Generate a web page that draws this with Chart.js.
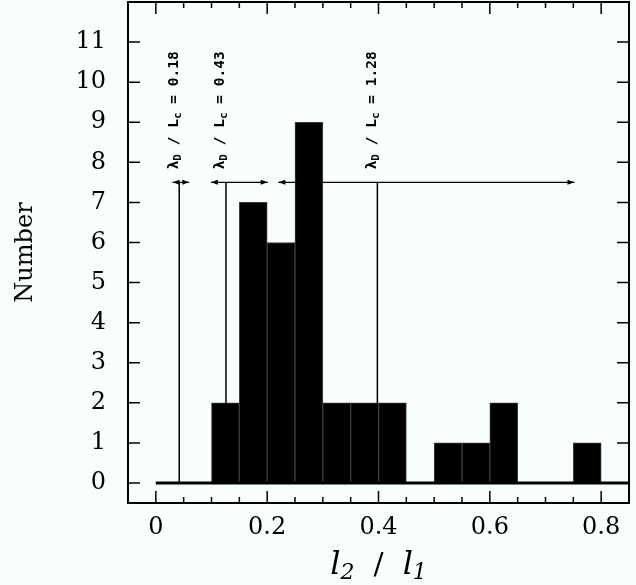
<!DOCTYPE html>
<html><head><meta charset="utf-8">
<script src="https://cdn.jsdelivr.net/npm/chart.js@4.4.1/dist/chart.umd.min.js"></script>
<style>html,body{margin:0;padding:0;background:#f8fefe;overflow:hidden;}</style>
</head><body>
<canvas id="c" width="636" height="585" style="width:636px;height:585px;display:block"></canvas>
<script>
// ---- data ----
const binLo  = [0.00,0.05,0.10,0.15,0.20,0.25,0.30,0.35,0.40,0.45,0.50,0.55,0.60,0.65,0.70,0.75];
const binHi  = [0.05,0.10,0.15,0.20,0.25,0.30,0.35,0.40,0.45,0.50,0.55,0.60,0.65,0.70,0.75,0.80];
const counts = [0,   0,   2,   7,   6,   9,   2,   2,   2,   0,   1,   1,   2,   0,   0,   1];
const xMajorTicks = [0, 0.2, 0.4, 0.6, 0.8];
const xTickLabels = ['0', '0.2', '0.4', '0.6', '0.8'];
const xMinorTicks = [0.05,0.1,0.15,0.25,0.3,0.35,0.45,0.5,0.55,0.65,0.7,0.75];
const yTicks      = [0,1,2,3,4,5,6,7,8,9,10,11];
const yTickLabels = ['0','1','2','3','4','5','6','7','8','9','10','11'];
const markerX     = [0.042, 0.126, 0.398];
const arrowLo     = [0.030, 0.099, 0.220];
const arrowHi     = [0.060, 0.201, 0.752];
const markerRatio = ['0.18', '0.43', '1.28'];
const arrowLevel  = 7.5;

const BG = '#f8fefe';

const annot = {
  id: 'annot',
  beforeDraw(chart) {
    const ctx = chart.ctx;
    ctx.save(); ctx.fillStyle = BG; ctx.fillRect(0, 0, chart.width, chart.height); ctx.restore();
  },
  afterDatasetsDraw(chart) {
    const ctx = chart.ctx, xs = chart.scales.x, ys = chart.scales.y, a = chart.chartArea;
    ctx.save();
    ctx.strokeStyle = '#000'; ctx.fillStyle = '#000';
    // baseline at zero
    ctx.lineWidth = 3;
    ctx.beginPath(); ctx.moveTo(xs.getPixelForValue(0), ys.getPixelForValue(0));
    ctx.lineTo(a.right, ys.getPixelForValue(0)); ctx.stroke();
    // markers + arrows
    const yA = ys.getPixelForValue(arrowLevel);
    const head = (x, y, dir) => {
      ctx.beginPath(); ctx.moveTo(x, y); ctx.lineTo(x - dir * 7, y - 2.5); ctx.lineTo(x - dir * 7, y + 2.5);
      ctx.closePath(); ctx.fill();
    };
    for (let i = 0; i < markerX.length; i++) {
      const xm = xs.getPixelForValue(markerX[i]);
      ctx.lineWidth = 1.5;
      ctx.beginPath(); ctx.moveTo(xm, ys.getPixelForValue(0)); ctx.lineTo(xm, yA); ctx.stroke();
      const x0 = xs.getPixelForValue(arrowLo[i]), x1 = xs.getPixelForValue(arrowHi[i]);
      ctx.lineWidth = 1.2;
      ctx.beginPath(); ctx.moveTo(x0, yA); ctx.lineTo(x1, yA); ctx.stroke();
      head(x0, yA, -1); head(x1, yA, 1);
      // rotated label
      ctx.save();
      ctx.translate(xm - 1.5, yA - 13);
      ctx.rotate(-Math.PI / 2);
      ctx.textBaseline = 'alphabetic'; ctx.textAlign = 'left';
      const big = 'bold 14.5px "DejaVu Sans Mono"', small = 'bold 11px "DejaVu Sans Mono"';
      const parts = [['λ', big, 0], ['D', small, 3], [' / L', big, 0], ['c', small, 3], [' = ' + markerRatio[i], big, 0]];
      let cx = 0;
      for (const [t, f, dy] of parts) { ctx.font = f; ctx.fillText(t, cx, dy); cx += ctx.measureText(t).width; }
      ctx.restore();
    }
    // frame
    ctx.lineWidth = 2;
    ctx.strokeRect(a.left, a.top, a.right - a.left, a.bottom - a.top);
    // ticks
    ctx.lineWidth = 1.5;
    ctx.beginPath();
    for (const v of xMajorTicks) { const p = xs.getPixelForValue(v);
      ctx.moveTo(p, a.bottom); ctx.lineTo(p, a.bottom - 12); ctx.moveTo(p, a.top); ctx.lineTo(p, a.top + 12); }
    for (const v of xMinorTicks) { const p = xs.getPixelForValue(v);
      ctx.moveTo(p, a.bottom); ctx.lineTo(p, a.bottom - 6); ctx.moveTo(p, a.top); ctx.lineTo(p, a.top + 6); }
    for (const v of yTicks) { const p = ys.getPixelForValue(v);
      ctx.moveTo(a.left, p); ctx.lineTo(a.left + 12, p); ctx.moveTo(a.right, p); ctx.lineTo(a.right - 12, p); }
    ctx.stroke();
    // x title  l2 / l1
    const big = 'italic 32px "DejaVu Serif"', sub = 'italic 22px "DejaVu Serif"', slash = '30px "DejaVu Serif"';
    const parts = [['l', big, 0], ['2', sub, 5], ['  /  ', slash, 0], ['l', big, 0], ['1', sub, 5]];
    let w = 0;
    for (const [t, f] of parts) { ctx.font = f; w += ctx.measureText(t).width; }
    let cx = (a.left + a.right) / 2 - w / 2;
    ctx.textBaseline = 'alphabetic'; ctx.textAlign = 'left';
    for (const [t, f, dy] of parts) { ctx.font = f; ctx.fillText(t, cx, 574 + dy); cx += ctx.measureText(t).width; }
    ctx.restore();
  }
};

const noPad = s => { s.paddingTop = 0; s.paddingBottom = 0; s.paddingLeft = 0; s.paddingRight = 0; };

new Chart(document.getElementById('c'), {
  type: 'bar',
  data: {
    datasets: [{
      data: binLo.map((lo, i) => ({ x: (lo + binHi[i]) / 2, y: counts[i] })),
      backgroundColor: '#000',
      borderColor: '#3c3c3c',
      borderWidth: 1,
      barPercentage: 1,
      categoryPercentage: 1,
      grouped: false
    }]
  },
  options: {
    responsive: false,
    devicePixelRatio: 1,
    animation: false,
    layout: { padding: { top: 2, right: 7, left: 0, bottom: 0 } },
    plugins: { legend: { display: false }, tooltip: { enabled: false } },
    scales: {
      x: {
        type: 'linear', min: -0.05, max: 0.85, offset: false,
        grid: { display: false, drawTicks: false, offset: false },
        border: { display: false },
        afterBuildTicks: s => { s.ticks = xMajorTicks.map(v => ({ value: v })); },
        afterFit: s => { s.height = 82; noPad(s); },
        ticks: { padding: 10, color: '#000', font: { family: 'DejaVu Serif', size: 24 },
                 maxRotation: 0, autoSkip: false, callback: (v, i) => xTickLabels[i] }
      },
      y: {
        type: 'linear', min: -0.5, max: 12,
        grid: { display: false, drawTicks: false },
        border: { display: false },
        afterBuildTicks: s => { s.ticks = yTicks.map(v => ({ value: v })); },
        afterFit: s => { s.width = 128; noPad(s); },
        ticks: { padding: 22, color: '#000', font: { family: 'DejaVu Serif', size: 24 },
                 autoSkip: false, callback: (v, i) => yTickLabels[i] },
        title: { display: true, text: 'Number', color: '#000',
                 font: { family: 'DejaVu Serif', size: 24 }, padding: { top: 11, bottom: 0 } }
      }
    }
  },
  plugins: [annot]
});
</script>
</body></html>
